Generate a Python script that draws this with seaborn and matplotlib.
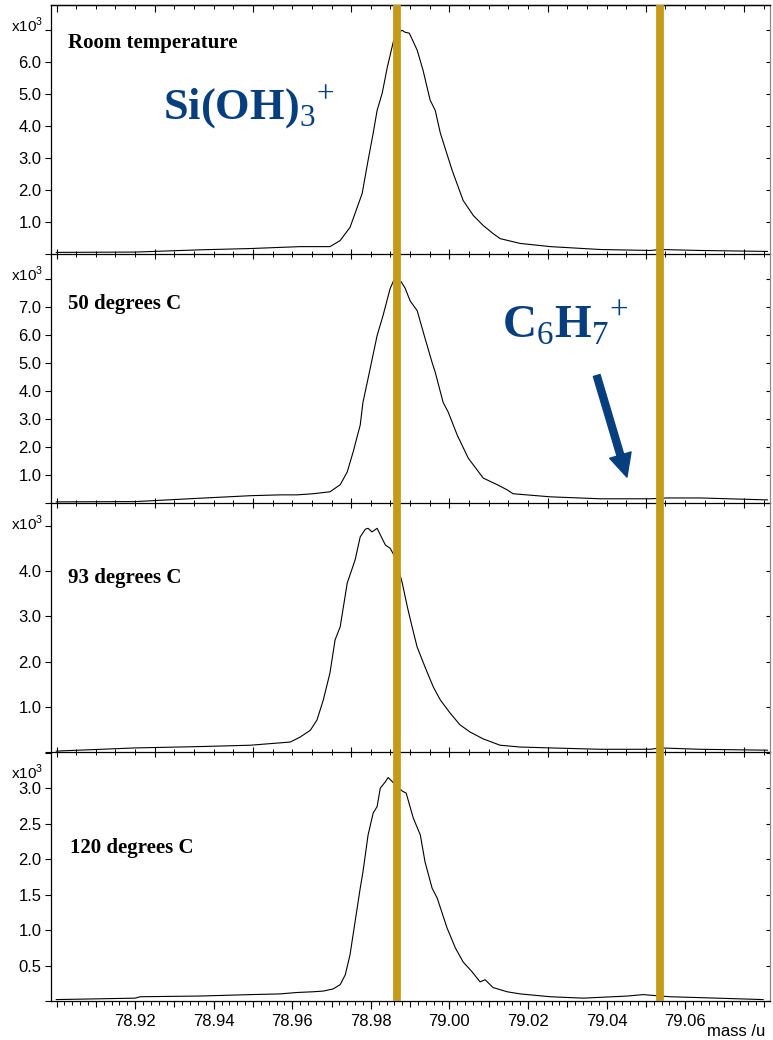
import matplotlib
matplotlib.use("Agg")
import matplotlib.pyplot as plt
import numpy as np
import pandas as pd
import seaborn as sns
from matplotlib.ticker import MultipleLocator, FixedLocator, FormatStrFormatter, NullFormatter

# ---------------- data (intensity in units of 10^3 counts) ----------------
mass_rt = [78.8999, 78.9200, 78.9365, 78.9493, 78.9620, 78.9696, 78.9722, 78.9747, 78.9760,
           78.9778, 78.9793, 78.9806, 78.9816, 78.9829, 78.9842, 78.9857, 78.9870, 78.9880,
           78.9887, 78.9898, 78.9918, 78.9933, 78.9951, 78.9964, 78.9977, 79.0007, 79.0035,
           79.0061, 79.0086, 79.0111, 79.0129, 79.0180, 79.0257, 79.0384, 79.0511, 79.0537,
           79.0638, 79.0810]
int_rt = [0.05, 0.06, 0.13, 0.17, 0.23, 0.23, 0.42, 0.83, 1.27,
          1.89, 2.92, 3.77, 4.48, 5.02, 5.83, 6.61, 6.92, 6.98,
          6.92, 6.89, 6.36, 5.73, 4.80, 4.48, 3.77, 2.61, 1.67,
          1.20, 0.89, 0.64, 0.48, 0.33, 0.23, 0.14, 0.11, 0.14,
          0.11, 0.08]

mass_50 = [78.8999, 78.9200, 78.9365, 78.9493, 78.9569, 78.9612, 78.9653, 78.9696, 78.9722,
           78.9740, 78.9755, 78.9773, 78.9780, 78.9793, 78.9816, 78.9831, 78.9849, 78.9859,
           78.9877, 78.9887, 78.9900, 78.9918, 78.9936, 78.9956, 78.9964, 78.9984, 78.9997,
           79.0020, 79.0048, 79.0086, 79.0122, 79.0147, 79.0162, 79.0257, 79.0384, 79.0511,
           79.0554, 79.0638, 79.0810]
int_50 = [0.04, 0.05, 0.17, 0.26, 0.29, 0.29, 0.33, 0.40, 0.65,
          1.11, 1.82, 2.78, 3.59, 4.44, 5.97, 6.68, 7.64, 7.96,
          7.89, 7.67, 7.21, 6.86, 5.97, 5.01, 4.66, 3.59, 3.24,
          2.42, 1.60, 0.89, 0.65, 0.47, 0.33, 0.22, 0.15, 0.15,
          0.18, 0.18, 0.11]

mass_93 = [78.8999, 78.9200, 78.9365, 78.9493, 78.9595, 78.9620, 78.9646, 78.9663, 78.9679,
           78.9696, 78.9709, 78.9722, 78.9740, 78.9760, 78.9773, 78.9786, 78.9793, 78.9803,
           78.9816, 78.9837, 78.9849, 78.9862, 78.9880, 78.9893, 78.9905, 78.9918, 78.9938,
           78.9959, 78.9977, 79.0002, 79.0027, 79.0053, 79.0086, 79.0129, 79.0180, 79.0257,
           79.0384, 79.0511, 79.0537, 79.0638, 79.0810]
int_93 = [0.02, 0.09, 0.12, 0.15, 0.22, 0.33, 0.48, 0.71, 1.15,
          1.75, 2.48, 2.77, 3.74, 4.25, 4.76, 4.93, 4.95, 4.87,
          4.95, 4.58, 4.51, 4.31, 3.74, 3.21, 2.77, 2.32, 1.88,
          1.44, 1.15, 0.86, 0.60, 0.44, 0.29, 0.15, 0.11, 0.09,
          0.06, 0.06, 0.09, 0.06, 0.04]

mass_120 = [78.8999, 78.9200, 78.9213, 78.9365, 78.9493, 78.9569, 78.9612, 78.9653, 78.9679,
            78.9704, 78.9722, 78.9735, 78.9747, 78.9760, 78.9773, 78.9780, 78.9793, 78.9806,
            78.9816, 78.9824, 78.9837, 78.9844, 78.9857, 78.9880, 78.9890, 78.9908, 78.9926,
            78.9938, 78.9956, 78.9969, 78.9994, 79.0015, 79.0035, 79.0058, 79.0078, 79.0091,
            79.0111, 79.0147, 79.0180, 79.0257, 79.0341, 79.0453, 79.0493, 79.0562, 79.0682,
            79.0799]
int_120 = [0.02, 0.04, 0.06, 0.07, 0.09, 0.10, 0.12, 0.13, 0.14,
           0.17, 0.23, 0.37, 0.65, 1.12, 1.59, 1.82, 2.34, 2.65,
           2.74, 3.00, 3.09, 3.15, 3.08, 2.96, 2.93, 2.58, 2.34,
           1.96, 1.59, 1.45, 1.03, 0.75, 0.55, 0.41, 0.27, 0.30,
           0.19, 0.13, 0.10, 0.06, 0.04, 0.07, 0.09, 0.06, 0.04,
           0.02]

panel_labels = ["Room temperature", "50 degrees C", "93 degrees C", "120 degrees C"]
y_tops = [7.77, 8.88, 5.51, 3.51]
y_ticks = [[0, 1, 2, 3, 4, 5, 6, 7],
           [0, 1, 2, 3, 4, 5, 6, 7, 8],
           [0, 1, 2, 3, 4, 5],
           [0, 0.5, 1.0, 1.5, 2.0, 2.5, 3.0, 3.5]]
y_ticklabels = [["", "1.0", "2.0", "3.0", "4.0", "5.0", "6.0", ""],
                ["", "1.0", "2.0", "3.0", "4.0", "5.0", "6.0", "7.0", ""],
                ["", "1.0", "2.0", "3.0", "4.0", ""],
                ["", "0.5", "1.0", "1.5", "2.0", "2.5", "3.0", ""]]
x_ticks = [78.92, 78.94, 78.96, 78.98, 79.00, 79.02, 79.04, 79.06]
ion_lines = [78.9867, 79.0535]   # Si(OH)3+ and C6H7+ reference masses
x_range = (78.8986, 79.0816)

series = [(mass_rt, int_rt), (mass_50, int_50), (mass_93, int_93), (mass_120, int_120)]

# ---------------- style ----------------
sns.set_theme(style="ticks")
plt.rcParams["font.family"] = ["Liberation Sans", "DejaVu Sans"]
plt.rcParams.update({
    "mathtext.fontset": "custom",
    "mathtext.rm": "Liberation Serif",
    "mathtext.bf": "Liberation Serif:bold",
    "mathtext.sf": "Liberation Sans",
    "axes.edgecolor": "black",
    "axes.linewidth": 0.9,
    "xtick.color": "black",
    "ytick.color": "black",
    "text.color": "black",
    "xtick.labelsize": 12,
    "ytick.labelsize": 12,
})

BLUE = "#073f7e"
GOLD = "#c49b17"

fig = plt.figure(figsize=(7.73, 10.4), dpi=100)
gs = fig.add_gridspec(4, 1, left=0.066, right=0.9961, top=0.9952, bottom=0.0375, hspace=0)
axes = [fig.add_subplot(gs[i]) for i in range(4)]

label_pos = [(0.0236, 0.827), (0.0236, 0.78), (0.0236, 0.679), (0.0264, 0.594)]

for i, ax in enumerate(axes):
    ax.patch.set_visible(False)
    m, c = series[i]
    df = pd.DataFrame({"mass": m, "counts": c})
    sns.lineplot(data=df, x="mass", y="counts", ax=ax, color="black",
                 linewidth=0.8, estimator=None, sort=False)
    ax.set_xlim(*x_range)
    ax.set_ylim(0, y_tops[i])
    ax.set_xlabel("")
    ax.set_ylabel("")

    # y ticks
    ax.yaxis.set_major_locator(FixedLocator(y_ticks[i]))
    ax.set_yticklabels(y_ticklabels[i])
    ax.tick_params(axis="y", which="major", direction="out", length=4, width=0.8,
                   pad=3, left=True, right=False)
    ax.spines["right"].set_visible(False)
    sec_r = ax.secondary_yaxis("right")
    sec_r.yaxis.set_major_locator(FixedLocator(y_ticks[i]))
    sec_r.tick_params(axis="y", direction="in", length=3, width=0.8, labelright=False)
    sec_r.spines["right"].set_color("#8a8a8a")
    sec_r.spines["right"].set_linewidth(0.9)

    # x ticks
    if i < 3:
        ax.xaxis.set_major_locator(MultipleLocator(0.025))
        ax.xaxis.set_minor_locator(MultipleLocator(0.005))
        ax.xaxis.set_major_formatter(NullFormatter())
        ax.tick_params(axis="x", which="major", direction="inout", length=7, width=0.8,
                       top=False, labelbottom=False)
        ax.tick_params(axis="x", which="minor", direction="inout", length=4, width=0.7,
                       top=False)
        if i > 0:
            ax.spines["top"].set_visible(False)
        else:
            sec_t = ax.secondary_xaxis("top")
            sec_t.xaxis.set_major_locator(MultipleLocator(0.025))
            sec_t.xaxis.set_minor_locator(MultipleLocator(0.005))
            sec_t.tick_params(axis="x", which="major", direction="in", length=5,
                              width=0.8, labeltop=False)
            sec_t.tick_params(axis="x", which="minor", direction="in", length=3,
                              width=0.7)
            sec_t.xaxis.set_major_formatter(NullFormatter())
    else:
        ax.spines["top"].set_visible(False)
        ax.xaxis.set_major_locator(FixedLocator(x_ticks))
        ax.xaxis.set_major_formatter(FormatStrFormatter("%.2f"))
        ax.xaxis.set_minor_locator(MultipleLocator(0.002))
        ax.tick_params(axis="x", which="major", direction="out", length=6, width=0.8,
                       pad=3, top=False)
        ax.tick_params(axis="x", which="minor", direction="out", length=3, width=0.7,
                       top=False)
        sec_b = ax.secondary_xaxis("bottom")
        sec_b.xaxis.set_major_locator(MultipleLocator(0.01))
        sec_b.xaxis.set_major_formatter(NullFormatter())
        sec_b.tick_params(axis="x", direction="out", length=4.5, width=0.8,
                          labelbottom=False)
        sec_b.spines["bottom"].set_visible(False)

    # panel label and scale note
    ax.text(label_pos[i][0], label_pos[i][1], panel_labels[i], transform=ax.transAxes,
            ha="left", va="baseline", fontsize=15, fontweight="bold",
            family="Liberation Serif")
    ax.text(-0.011, 0.92, r"x10$^{\mathsf{3}}$", transform=ax.transAxes,
            ha="right", va="center", fontsize=11)

# ion annotations
axes[0].text(0.156, 0.544, r"$\mathbf{Si(OH)}_{\mathrm{3}}{}^{+}$", transform=axes[0].transAxes,
             ha="left", va="baseline", fontsize=32, color=BLUE)
axes[1].text(0.627, 0.664, r"$\mathbf{C}_{\mathrm{6}}\mathbf{H}_{\mathrm{7}}{}^{+}$",
             transform=axes[1].transAxes, ha="left", va="baseline", fontsize=34, color=BLUE)
axes[1].annotate("", xy=(0.801, 0.104), xytext=(0.759, 0.512),
                 xycoords="axes fraction", textcoords="axes fraction",
                 arrowprops=dict(arrowstyle="simple,head_length=1.65,head_width=1.6,tail_width=0.5",
                                 color=BLUE, shrinkA=0, shrinkB=0, mutation_scale=10))

# reference mass lines spanning all four panels (drawn from the last axes)
for xm in ion_lines:
    axes[3].axvline(xm, ymin=0, ymax=4.0, color=GOLD, linewidth=5.6, clip_on=False,
                    zorder=10, solid_capstyle="butt")

fig.text(765 / 773, 1 - 1032 / 1040, "mass /u", ha="right", va="center", fontsize=12)

fig.savefig("out.png", dpi=100)
